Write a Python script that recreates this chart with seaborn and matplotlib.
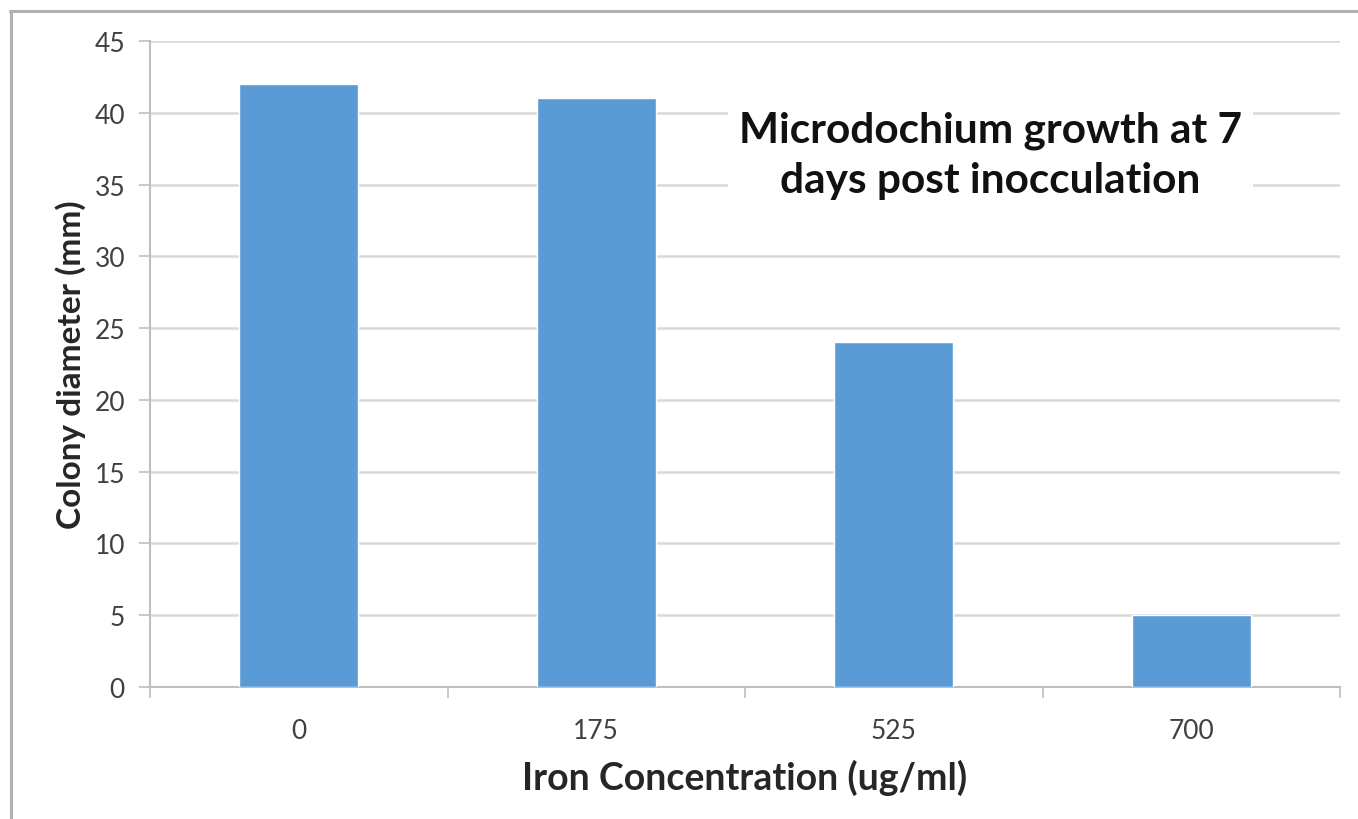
import matplotlib
matplotlib.use("Agg")
import matplotlib.pyplot as plt
import seaborn as sns
import pandas as pd
from matplotlib.lines import Line2D

concentrations = ["0", "175", "525", "700"]
diameters = [42, 41, 24, 5]
y_ticks = [0, 5, 10, 15, 20, 25, 30, 35, 40, 45]

sns.set_theme(style="white")
plt.rcParams['font.family'] = ['Lato', 'DejaVu Sans']

df = pd.DataFrame({"conc": concentrations, "diam": diameters})

fig = plt.figure(figsize=(13.58, 8.20), dpi=100)
ax = fig.add_axes([150/1358, 1-688/820, (1340-150)/1358, (688-42)/820])

sns.barplot(data=df, x="conc", y="diam", order=concentrations, color="#5b9bd5",
            saturation=1, width=0.4, ax=ax, zorder=3)

ax.set_ylim(0, 45)
ax.set_xlim(-0.5, 3.5)
ax.set_yticks(y_ticks)
ax.set_yticklabels([str(t) for t in y_ticks], fontsize=19, color="#404040")
ax.yaxis.grid(True, color="#d9d9d9", linewidth=1.8, zorder=0)
ax.set_axisbelow(True)

# x ticks: labels at centres, tick marks at boundaries
ax.set_xticks(range(len(concentrations)))
ax.set_xticklabels(concentrations, fontsize=19, color="#404040")
ax.tick_params(axis="x", length=0, pad=22)
ax.set_xticks([-0.5, 0.5, 1.5, 2.5, 3.5], minor=True)
ax.tick_params(axis="x", which="minor", length=8, width=1.2, color="#bfbfbf", direction="out", bottom=True)
ax.tick_params(axis="y", length=8, width=1.2, color="#bfbfbf", direction="out", left=True, pad=10)

for side in ["top", "right"]:
    ax.spines[side].set_visible(False)
for side in ["left", "bottom"]:
    ax.spines[side].set_color("#bfbfbf")
    ax.spines[side].set_linewidth(1.5)

ax.set_xlabel("Iron Concentration (ug/ml)", fontsize=27, fontweight="bold", color="#262626", labelpad=12)
ax.set_ylabel("Colony diameter (mm)", fontsize=24, fontweight="bold", color="#262626", labelpad=6)

ax.text(0.706, 0.8235, "Microdochium growth at 7\ndays post inocculation", transform=ax.transAxes,
        ha="center", va="center", fontsize=30.5, fontweight="bold", color="#111111",
        linespacing=1.38, zorder=5,
        bbox=dict(facecolor="white", edgecolor="none", pad=8))

# outer frame: only top and left edges visible
fig.add_artist(Line2D([10/1358, 1.0], [1-12/820, 1-12/820], transform=fig.transFigure,
                      color="#b0b0b0", linewidth=2.2))
fig.add_artist(Line2D([11/1358, 11/1358], [0.0, 1-12/820], transform=fig.transFigure,
                      color="#b0b0b0", linewidth=2.2))

fig.savefig("out.png", dpi=100)
